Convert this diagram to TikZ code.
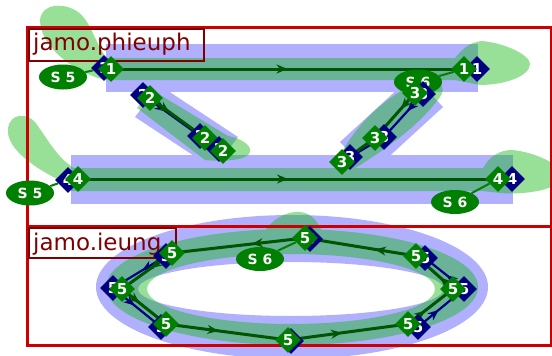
\documentclass[tikz,border=0pt]{standalone}
\usepackage{fontspec}
\setmainfont{DejaVu Sans}
\usetikzlibrary{shapes.geometric,arrows.meta,decorations.markings}
\definecolor{redbox}{RGB}{204,0,0}
\definecolor{lbl}{RGB}{128,0,0}
\definecolor{lav}{RGB}{176,176,255}
\definecolor{gfill}{RGB}{10,181,10}
\definecolor{gnode}{RGB}{0,128,0}
\definecolor{navyc}{RGB}{0,0,128}
\definecolor{dgreen}{RGB}{0,85,0}
\pgfdeclarelayer{bg}
\pgfdeclarelayer{lines}
\pgfsetlayers{bg,lines,main}
\tikzset{
 gd/.style={diamond, fill=gnode, text=white, inner sep=0pt, minimum width=26pt, minimum height=26pt, font=\bfseries\fontsize{15}{15}\selectfont},
 nd/.style={gd, fill=navyc},
 sel/.style={ellipse, fill=gnode, text=white, minimum width=48pt, minimum height=25pt, inner sep=0pt, font=\bfseries\fontsize{14}{14}\selectfont},
 conn/.style={gnode, line width=2pt},
 sline/.style={dgreen, line width=3pt},
 nline/.style={navyc, line width=2.2pt},
 arr/.style={postaction={decorate}, decoration={markings, mark=at position #1 with {\arrow{Stealth[length=11pt,width=9pt,inset=3.5pt]}}}},
 arr/.default=0.4,
 lblbox/.style={lbl, line width=1.6pt},
 lbltext/.style={anchor=base west, text=lbl, inner sep=0pt, font=\fontsize{23}{23}\selectfont},
}
\begin{document}
\begin{tikzpicture}[x=1pt,y=-1pt]
\useasboundingbox (0,0) rectangle (552,356);
\begin{pgfonlayer}{bg}
\fill[white] (0,0) rectangle (552,356);
% blue bands
\fill[lav] (106,44) rectangle (478,92);
\fill[lav] (71,155) rectangle (513,204);
\fill[lav] (159,85) -- (238,137) -- (214,169) -- (135,117) -- cycle;
\fill[lav] (340,142) -- (413,75) -- (443,107) -- (370,174) -- cycle;
\fill[lav, even odd rule] (292,287) ellipse [x radius=196, y radius=72] (291,289) ellipse [x radius=153, y radius=27];
% green bands and blobs
\begin{scope}[transparency group, opacity=0.42]
\fill[gfill] (106,58) rectangle (470,80);
\fill[gfill] (455,58) .. controls (465,46) and (472,42) .. (482,41) .. controls (505,43) and (530,55) .. (530,64) .. controls (530,76) and (505,85) .. (480,85) -- (455,80) -- cycle;
\fill[gfill] (110,62) .. controls (96,48) and (92,22) .. (78,12) .. controls (66,3) and (42,2) .. (40,20) .. controls (40,45) and (70,70) .. (104,80) -- cycle;
\fill[gfill] (71,168) rectangle (490,191);
\fill[gfill] (74,168) .. controls (57,158) and (47,138) .. (35,122) .. controls (26,112) and (10,114) .. (8,128) .. controls (5,150) and (40,172) .. (72,186) -- cycle;
\fill[gfill] (483,168) .. controls (490,156) and (500,150) .. (512,150) .. controls (535,152) and (562,165) .. (562,175) .. controls (562,190) and (525,195) .. (500,193) -- (483,191) -- cycle;
\fill[gfill] (152,90) -- (228,136) .. controls (240,138) and (252,145) .. (250,152) .. controls (248,160) and (225,162) .. (205,160) -- (137,108) -- cycle;
\fill[gfill] (335,166) .. controls (350,130) and (385,95) .. (420,82) .. controls (440,76) and (447,88) .. (440,97) .. controls (420,125) and (385,150) .. (352,170) -- cycle;
\fill[gfill, even odd rule] (292,287) ellipse [x radius=186, y radius=58] (291,289) ellipse [x radius=144, y radius=35];
\fill[gfill] (265,231) .. controls (275,216) and (290,211) .. (300,212) .. controls (312,213) and (318,222) .. (322,232) -- cycle;
\end{scope}
% frames
\draw[redbox, line width=3pt] (27,27) rectangle (551,226);
\draw[redbox, line width=3pt] (27,226) rectangle (551,345);
\draw[lblbox] (29,29) rectangle (204,61);
\node[lbltext] (lab1) at (33,50) {jamo.phieuph};
\draw[lblbox] (29,228) rectangle (176,258);
\node[lbltext] (lab2) at (33,250) {jamo.ieung};
\end{pgfonlayer}

% S labels
\node[sel] (s5a) at (63,77) {S 5};
\node[sel] (s6a) at (418,82) {S 6};
\node[sel] (s5b) at (30,193) {S 5};
\node[sel, minimum height=24pt] (s6b) at (455,202) {S 6};
\node[sel, minimum height=24pt] (s6c) at (260,259) {S 6};

% phieuph nodes
\node[nd] (v1a) at (104,68) {1};
\node[gd] (g1a) at (111,69) {1};
\node[nd] (v1b) at (477,69) {1};
\node[gd] (g1b) at (464,69) {1};
\node[nd] (v2a) at (143,95) {2};
\node[gd] (g2a) at (150,98) {2};
\node[nd] (v2b) at (200,136) {2};
\node[gd] (g2b) at (205,138) {2};
\node[nd] (v2c) at (219,149) {2};
\node[gd] (g2c) at (223,151) {2};
\node[nd] (v3a) at (350,157) {3};
\node[gd] (g3a) at (342,162) {3};
\node[nd] (v3b) at (384,137) {3};
\node[gd] (g3b) at (375,138) {3};
\node[nd] (v3c) at (423,94) {3};
\node[gd] (g3c) at (415,93) {3};
\node[nd] (v4a) at (68,180) {4};
\node[gd] (g4a) at (78,179) {4};
\node[nd] (v4b) at (512,179) {4};
\node[gd] (g4b) at (498,179) {4};

% ieung nodes
\node[nd] (vt) at (310,239) {5};
\node[gd] (gt) at (305,238) {5};
\node[nd] (vul) at (166,256) {5};
\node[gd] (gul) at (172,253) {5};
\node[nd] (vl) at (113,288) {5};
\node[gd] (gl) at (122,289) {5};
\node[nd] (vll) at (161,327) {5};
\node[gd] (gll) at (166,324) {5};
\node[nd] (vb) at (291,341) {5};
\node[gd] (gb) at (288,340) {5};
\node[nd] (vlr) at (418,327) {5};
\node[gd] (glr) at (408,324) {5};
\node[nd] (vr) at (464,289) {5};
\node[gd] (gr) at (453,289) {5};
\node[nd] (vur) at (425,258) {5};
\node[gd] (gur) at (416,256) {5};

\begin{pgfonlayer}{lines}
% phieuph strokes
\draw[sline, arr=0.5] (g1a.center) -- (g1b.center);
\draw[sline, arr=0.5] (g4a.center) -- (g4b.center);
\draw[nline, arr=0.4] (v2a.center) -- (v2b.center);
\draw[sline, arr=0.35] (g2a.center) -- (g2b.center);
\draw[sline] (g2b.center) -- (g2c.center);
\draw[nline, arr=0.4] (v3c.center) -- (v3b.center);
\draw[nline] (v3b.center) -- (v3a.center);
\draw[sline, arr=0.35] (g3c.center) -- (g3b.center);
\draw[sline] (g3b.center) -- (g3a.center);
% ieung
\draw[nline, arr=0.45] (vul.center) -- (vl.center);
\draw[nline, arr=0.45] (vl.center) -- (vll.center);
\draw[nline, arr=0.45] (vlr.center) -- (vr.center);
\draw[nline, arr=0.45] (vr.center) -- (vur.center);
\draw[sline, arr=0.4] (gt.center) -- (gul.center);
\draw[sline, arr=0.42] (gul.center) -- (gl.center);
\draw[sline, arr=0.4] (gl.center) -- (gll.center);
\draw[sline, arr=0.43] (gll.center) -- (gb.center);
\draw[sline, arr=0.45] (gb.center) -- (glr.center);
\draw[sline, arr=0.38] (glr.center) -- (gr.center);
\draw[sline, arr=0.35] (gr.center) -- (gur.center);
\draw[sline, arr=0.37] (gur.center) -- (gt.center);
% connectors
\draw[conn] (s5a) -- (v1a);
\draw[conn] (s6a) -- (g1b);
\draw[conn] (s5b) -- (v4a);
\draw[conn] (s6b) -- (g4b);
\draw[conn] (s6c) -- (gt);
\end{pgfonlayer}
\end{tikzpicture}
\end{document}
